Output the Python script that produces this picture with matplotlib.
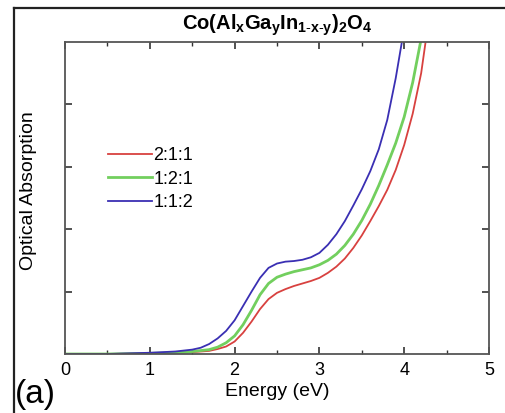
import numpy as np
import matplotlib.pyplot as plt
from matplotlib.lines import Line2D

plt.rcParams['font.family'] = ['Liberation Sans', 'DejaVu Sans']
plt.rcParams['mathtext.fontset'] = 'custom'
plt.rcParams['mathtext.rm'] = 'Liberation Sans'
plt.rcParams['mathtext.bf'] = 'Liberation Sans:bold'

# (Energie v eV, absorpce v rel. jednotkach)
x_211 = [0, 0.5, 1.0, 1.3, 1.5, 1.7, 1.8, 1.9, 2.0, 2.1, 2.2, 2.3, 2.4, 2.5, 2.6, 2.7,
         2.8, 2.9, 3.0, 3.1, 3.2, 3.3, 3.4, 3.5, 3.6, 3.7, 3.8, 3.9, 4.0, 4.1, 4.2, 4.25]
y_211 = [0, 0, 0.01, 0.02, 0.03, 0.05, 0.08, 0.12, 0.20, 0.34, 0.52, 0.72, 0.88, 0.98,
         1.04, 1.09, 1.13, 1.17, 1.22, 1.30, 1.40, 1.53, 1.70, 1.90, 2.13, 2.37, 2.63,
         2.95, 3.35, 3.85, 4.50, 4.98]

x_121 = [0, 0.5, 1.0, 1.3, 1.5, 1.7, 1.8, 1.9, 2.0, 2.1, 2.2, 2.3, 2.4, 2.5, 2.6, 2.7,
         2.8, 2.9, 3.0, 3.1, 3.2, 3.3, 3.4, 3.5, 3.6, 3.7, 3.8, 3.9, 4.0, 4.1, 4.19]
y_121 = [0, 0, 0.01, 0.02, 0.04, 0.07, 0.11, 0.18, 0.29, 0.47, 0.70, 0.95, 1.13, 1.23,
         1.28, 1.32, 1.35, 1.38, 1.43, 1.50, 1.60, 1.74, 1.92, 2.14, 2.40, 2.70, 3.03,
         3.38, 3.80, 4.35, 4.98]

x_112 = [0, 0.5, 1.0, 1.3, 1.5, 1.6, 1.7, 1.8, 1.9, 2.0, 2.1, 2.2, 2.3, 2.4, 2.5, 2.6,
         2.7, 2.8, 2.9, 3.0, 3.1, 3.2, 3.3, 3.4, 3.5, 3.6, 3.7, 3.8, 3.9, 3.97]
y_112 = [0, 0, 0.02, 0.04, 0.07, 0.10, 0.16, 0.25, 0.37, 0.54, 0.77, 1.00, 1.22, 1.38,
         1.45, 1.48, 1.49, 1.51, 1.55, 1.62, 1.75, 1.92, 2.13, 2.38, 2.64, 2.93, 3.28,
         3.75, 4.42, 4.98]

labels = ['2:1:1', '1:2:1', '1:1:2']
colors = ['#d8413f', '#72cf5e', '#3a2fb3']
widths = [1.3, 2.0, 1.3]

fig = plt.figure(figsize=(5.06, 4.13), dpi=100)
ax = fig.add_axes([65/506, 59/413, 424/506, 312/413])

for xs, ys, lab, c, w in zip([x_211, x_121, x_112], [y_211, y_121, y_112],
                             labels, colors, widths):
    ax.plot(xs, ys, color=c, lw=w, label=lab)

ax.set_xlim(0, 5)
ax.set_ylim(0, 5)
ax.set_xticks([0, 1, 2, 3, 4, 5])
ax.set_xticks(np.arange(0.5, 5, 1), minor=True)
ax.set_yticks([1, 2, 3, 4])
ax.set_yticklabels([])
ax.tick_params(which='both', direction='in', top=True, right=True,
               color='#333333', labelsize=13, pad=6)
ax.tick_params(which='major', length=5, width=1.2)
ax.tick_params(which='minor', length=3, width=1.0)
for s in ax.spines.values():
    s.set_color('#555555')
    s.set_linewidth(1.3)

ax.set_xlabel('Energy (eV)', fontsize=14, labelpad=3)
ax.set_ylabel('Optical Absorption', fontsize=14)
ax.yaxis.set_label_coords(-0.066, 0.525)
ax.set_title(r'Co(Al$_\mathbf{x}$Ga$_\mathbf{y}$In$_\mathbf{1\text{-}x\text{-}y}$)$_\mathbf{2}$O$_\mathbf{4}$',
             fontsize=14.5, fontweight='bold', pad=9)

leg = ax.legend(loc='upper left', bbox_to_anchor=(0.085, 0.686), frameon=False,
                fontsize=13, handlelength=2.4, handletextpad=0.1,
                labelspacing=0.35, borderaxespad=0)

fig.text(15/506, 1 - 403/413, '(a)', fontsize=24)

# ramecek panelu
fig.add_artist(Line2D([14/506, 14/506], [0, 1 - 8/413], transform=fig.transFigure,
                      color='#222222', lw=1.6))
fig.add_artist(Line2D([14/506, 1], [1 - 8/413, 1 - 8/413], transform=fig.transFigure,
                      color='#222222', lw=1.6))

fig.savefig('out.png', dpi=100)
